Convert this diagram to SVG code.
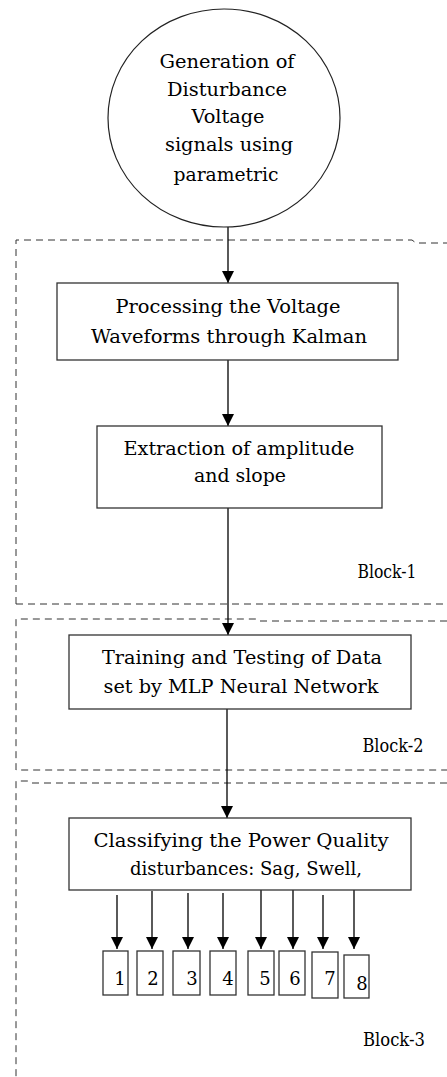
<svg xmlns="http://www.w3.org/2000/svg" width="447" height="1077" viewBox="0 0 447 1077">
<defs>
<marker id="ah" markerUnits="userSpaceOnUse" markerWidth="12" markerHeight="12" refX="12" refY="6" orient="auto">
<path d="M0,0 L12,6 L0,12 z" fill="#000"/>
</marker>
<style>
.t{font-family:"DejaVu Serif","Liberation Serif",serif;font-size:18px;fill:#000;text-anchor:middle}
.n{font-family:"DejaVu Serif","Liberation Serif",serif;font-size:18px;fill:#000;text-anchor:middle}
.box{fill:#fff;stroke:#333;stroke-width:1.3}
.dash{fill:none;stroke:#333;stroke-width:1;stroke-dasharray:7 5}
.c{fill:none;stroke:#000;stroke-width:1.3;marker-end:url(#ah)}
</style>
</defs>
<rect width="447" height="1077" fill="#fff"/>
<g id="blocks">
<path class="dash" d="M16,604 V240 H412 L416,243 H447"/>
<path class="dash" d="M16,604 H447"/>
<path class="dash" d="M447,621 H260 L258,619 H16 V770 H447"/>
<path class="dash" d="M447,783 H30 L28,781 H16 V1077"/>
<text class="t" x="387" y="578" textLength="59" lengthAdjust="spacingAndGlyphs">Block-1</text>
<text class="t" x="393" y="752" textLength="61" lengthAdjust="spacingAndGlyphs">Block-2</text>
<text class="t" x="394" y="1046" textLength="62" lengthAdjust="spacingAndGlyphs">Block-3</text>
</g>
<g id="connectors">
<line class="c" x1="228" y1="227" x2="228" y2="283"/>
<line class="c" x1="228" y1="360" x2="228" y2="426"/>
<line class="c" x1="228" y1="508" x2="228" y2="635"/>
<line class="c" x1="227" y1="709" x2="227" y2="818"/>
<line class="c" x1="117" y1="895" x2="117" y2="949"/>
<line class="c" x1="152" y1="891" x2="152" y2="949"/>
<line class="c" x1="188" y1="893" x2="188" y2="949"/>
<line class="c" x1="223" y1="893" x2="223" y2="949"/>
<line class="c" x1="261" y1="890" x2="261" y2="949"/>
<line class="c" x1="293" y1="890" x2="293" y2="949"/>
<line class="c" x1="323" y1="895" x2="323" y2="949"/>
<line class="c" x1="354" y1="890" x2="354" y2="949"/>
</g>
<g id="n0">
<ellipse cx="224" cy="118" rx="116" ry="109" fill="#fff" stroke="#222" stroke-width="1.2"/>
<text class="t" x="227" y="68" textLength="135" lengthAdjust="spacingAndGlyphs">Generation of</text>
<text class="t" x="227" y="96" textLength="120" lengthAdjust="spacingAndGlyphs">Disturbance</text>
<text class="t" x="228" y="123" textLength="73" lengthAdjust="spacingAndGlyphs">Voltage</text>
<text class="t" x="229" y="151" textLength="128" lengthAdjust="spacingAndGlyphs">signals using</text>
<text class="t" x="226" y="181" textLength="105" lengthAdjust="spacingAndGlyphs">parametric</text>
</g>
<g id="n1">
<rect class="box" x="57" y="283" width="341" height="77"/>
<text class="t" x="228" y="313" textLength="225" lengthAdjust="spacingAndGlyphs">Processing the Voltage</text>
<text class="t" x="229" y="343" textLength="276" lengthAdjust="spacingAndGlyphs">Waveforms through Kalman</text>
</g>
<g id="n2">
<rect class="box" x="97" y="426" width="285" height="82"/>
<text class="t" x="239" y="455" textLength="231" lengthAdjust="spacingAndGlyphs">Extraction of amplitude</text>
<text class="t" x="240" y="482" textLength="92" lengthAdjust="spacingAndGlyphs">and slope</text>
</g>
<g id="n3">
<rect class="box" x="69" y="635" width="342" height="74"/>
<text class="t" x="242" y="664" textLength="280" lengthAdjust="spacingAndGlyphs">Training and Testing of Data</text>
<text class="t" x="241" y="693" textLength="275" lengthAdjust="spacingAndGlyphs">set by MLP Neural Network</text>
</g>
<g id="n4">
<rect class="box" x="69" y="818" width="342" height="72"/>
<text class="t" x="241" y="847" textLength="295" lengthAdjust="spacingAndGlyphs">Classifying the Power Quality</text>
<text class="t" x="246" y="875" textLength="232" lengthAdjust="spacingAndGlyphs">disturbances: Sag, Swell,</text>
</g>
<g id="o1"><rect class="box" x="103" y="951" width="25" height="44"/><text class="n" x="120" y="985">1</text></g>
<g id="o2"><rect class="box" x="137" y="951" width="26" height="44"/><text class="n" x="153" y="985">2</text></g>
<g id="o3"><rect class="box" x="173" y="951" width="27" height="44"/><text class="n" x="192" y="985">3</text></g>
<g id="o4"><rect class="box" x="210" y="951" width="26" height="44"/><text class="n" x="228" y="985">4</text></g>
<g id="o5"><rect class="box" x="248" y="951" width="26" height="44"/><text class="n" x="265" y="985">5</text></g>
<g id="o6"><rect class="box" x="279" y="951" width="26" height="44"/><text class="n" x="295" y="985">6</text></g>
<g id="o7"><rect class="box" x="312" y="952" width="26" height="46"/><text class="n" x="330" y="985">7</text></g>
<g id="o8"><rect class="box" x="344" y="955" width="25" height="43"/><text class="n" x="362" y="990">8</text></g>
</svg>
